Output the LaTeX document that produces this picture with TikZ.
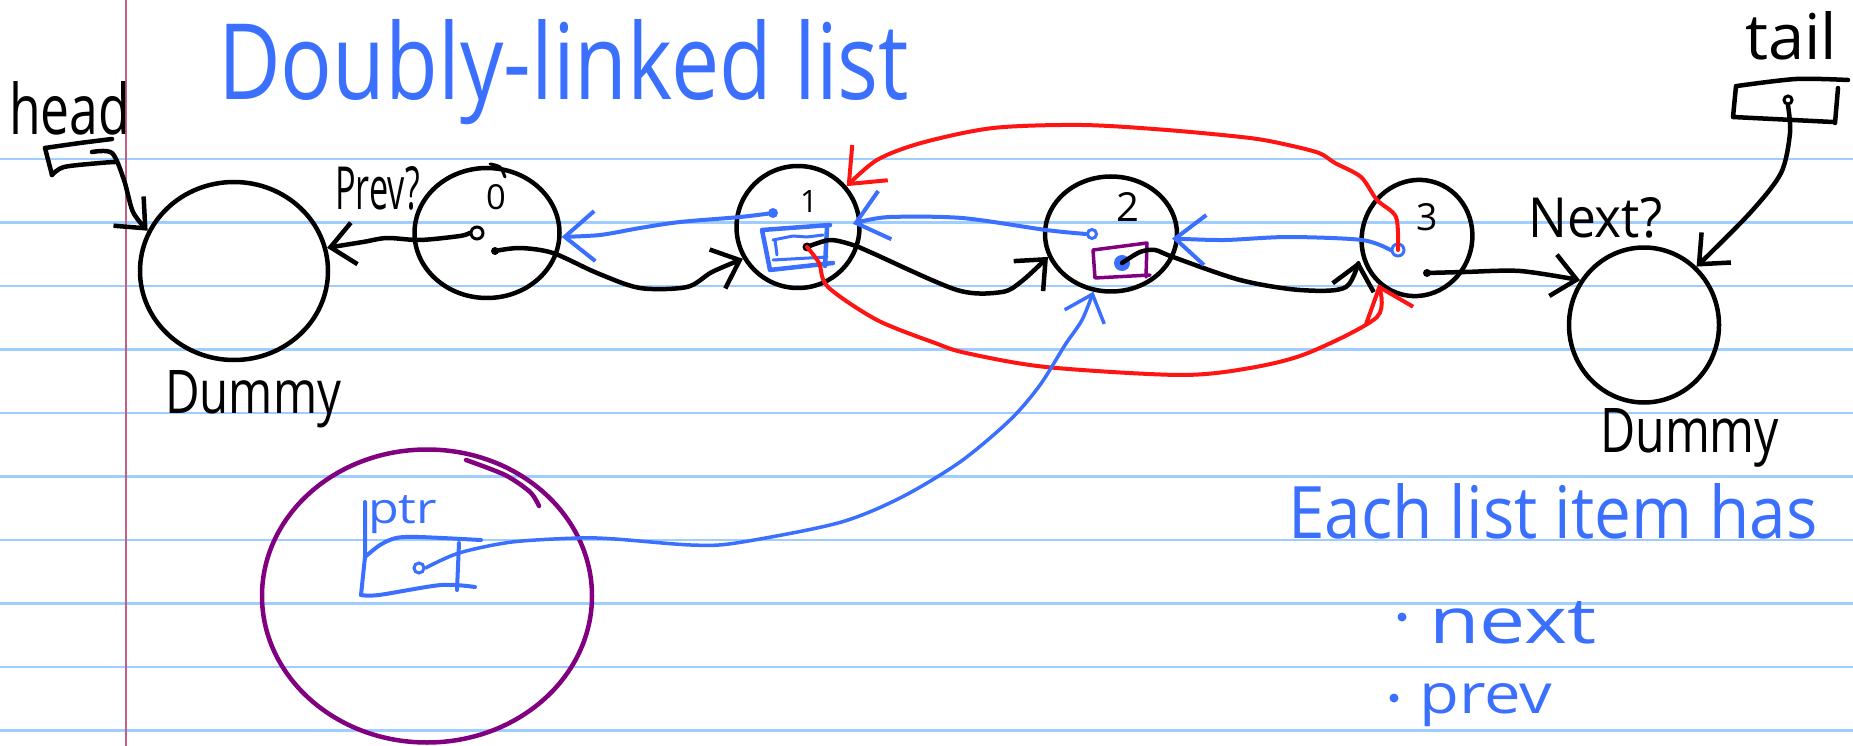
\documentclass[tikz,border=0pt]{standalone}
\usepackage{fontspec}
\setmainfont{Open Sans}
\usepackage{graphicx}
\usetikzlibrary{arrows.meta,shapes.geometric}
\definecolor{ink}{RGB}{59,112,255}
\definecolor{ruleblue}{RGB}{160,205,255}
\definecolor{marginred}{RGB}{195,95,130}
\definecolor{redink}{RGB}{255,20,20}
\definecolor{purp}{RGB}{128,0,128}
\newcommand{\hw}[3]{\resizebox{#1pt}{#2pt}{#3}}
\newcommand{\hh}[2]{\resizebox{!}{#1pt}{#2}}
\begin{document}
\begin{tikzpicture}[x=1pt,y=-1pt,
  pen/.style={line width=4.5pt, line cap=round, line join=round},
  circ/.style={draw, ellipse, pen, inner sep=0pt},
  lbl/.style={inner sep=0pt, anchor=base west},
  dig/.style={inner sep=0pt, anchor=base},
  ring/.style={draw, circle, line width=3pt, inner sep=0pt, minimum size=#1},
  blob/.style={fill, circle, inner sep=0pt, minimum size=#1},
  tip/.style={-{Straight Barb[length=24pt,width=42pt]}},
  bigtip/.style={-{Straight Barb[length=30pt,width=50pt]}}
]
\useasboundingbox (0,0) rectangle (1853,746);
\fill[white] (0,0) rectangle (1853,746);
% ruled paper
\foreach \k in {0,...,9}
  \draw[ruleblue, line width=2.5pt] (0,{159+63.5*\k}) -- (1853,{159+63.5*\k});
\draw[marginred, line width=2pt] (126,0) -- (126,746);

% texts
\node[lbl, ink] (title) at (218,100) {\hw{691}{80}{Doubly-linked list}};
\node[lbl] (headlbl) at (9,135) {\hw{121}{53}{head}};
\node[lbl] (taillbl) at (1745,60) {\hw{92}{48}{tail}};
\node[lbl] (prevq) at (335,210) {\hw{85}{43}{Prev?}};
\node[lbl] (nextq) at (1528,238) {\hw{134}{40}{Next?}};
\node[lbl] (dumLlbl) at (165,413) {\hw{176}{43}{Dummy}};
\node[lbl] (dumRlbl) at (1600,452) {\hw{179}{44}{Dummy}};
\node[lbl, ink] (ptrlbl) at (368,523) {\hw{69}{28}{ptr}};
\node[lbl, ink] (each) at (1288,538) {\hw{529}{55}{Each list item has}};
\node[lbl, ink] (nextlbl) at (1429,643) {\hw{167}{42}{next}};
\node[lbl, ink] (prevlbl) at (1419,713) {\hw{133}{30}{prev}};
\node[blob=9pt, ink] (bul1) at (1402,617) {};
\node[blob=9pt, ink] (bul2) at (1394,698) {};

% list nodes
\node[circ, minimum width=188pt, minimum height=178pt] (dL) at (234,271) {};
\node[circ, minimum width=145pt, minimum height=130pt] (n0) at (487,233) {};
\node[circ, minimum width=123pt, minimum height=122pt] (n1) at (798,227) {};
\node[circ, minimum width=132pt, minimum height=115pt] (n2) at (1111,234) {};
\node[circ, minimum width=110pt, minimum height=117pt, rotate=-20] (n3) at (1417,238) {};
\node[circ, minimum width=150pt, minimum height=155pt] (dR) at (1644,325) {};
\node[circ, purp, minimum width=330pt, minimum height=293pt] (ptrC) at (427,596) {};

\node[dig] (l0) at (496,210) {\hh{25}{0}};
\node[dig] (l1) at (809,212) {\hh{22}{1}};
\node[dig] (l2) at (1128,222) {\hh{29}{2}};
\node[dig] (l3) at (1427,230) {\hh{27}{3}};

% little overlapping strokes
\draw[pen, line width=3pt] plot[smooth] coordinates {(490,164) (500,167) (505,177)};
\draw[pen, purp] plot[smooth] coordinates {(466,460) (505,475) (530,492) (539,506)};

% head and tail boxes
\draw[pen] plot[smooth] coordinates {(45,148) (80,143) (112,139)};
\draw[pen] (45,148) -- (52,175);
\draw[pen] plot[smooth] coordinates {(52,175) (64,167) (100,163) (115,162)};
\coordinate (headDot) at (92,152);
\draw[pen] plot[smooth] coordinates {(1737,86) (1796,79) (1848,80)};
\draw[pen] (1736,86) -- (1733,117) -- (1833,122);
\draw[pen] (1838,88) -- (1835,123);
\node[ring=8pt] (tailDot) at (1788,100) {};

% fields inside nodes
\node[ring=12pt] (n0p) at (477,233) {};
\node[blob=8pt] (n0n) at (495,251) {};
\draw[pen, ink] (762,230) -- (830,225) (827,227) -- (825,266) (770,270) -- (833,263) (762,230) -- (770,270);
\draw[pen, ink, line width=3pt] (773,240) -- (793,236) -- (807,237) -- (823,235) (775,240) -- (777,255) (773,260) -- (827,257);
\node[blob=10pt, ink] (n1p) at (773,213) {};
\node[blob=9pt] (n1n) at (807,247) {};
\draw[pen, purp, line width=3.5pt] (1093,250) -- (1147,243) -- (1146,277) (1095,278) -- (1150,275) (1093,250) -- (1095,278);
\node[ring=9pt, ink] (n2p) at (1092,234) {};
\node[blob=16pt, ink] (n2n) at (1122,263) {};
\node[ring=12pt, ink] (n3p) at (1398,250) {};
\node[blob=8pt] (n3n) at (1427,273) {};

% ptr box
\draw[pen, ink, line width=4pt] plot[smooth] coordinates {(365,557) (380,545) (396,538) (419,537) (481,540)};
\draw[pen, ink, line width=4pt] (365,502) -- (365,557) -- (361,595);
\draw[pen, ink, line width=4pt] plot[smooth] coordinates {(361,595) (379,595) (441,585) (475,587)};
\draw[pen, ink, line width=4pt] (459,543) -- (457,590);
\node[ring=10pt, ink] (ptrDot) at (419,568) {};

% black connectors
\draw[pen, tip] plot[smooth] coordinates {(headDot) (112,153) (124,180) (133,212) (dL.155)};
\draw[pen, tip] plot[smooth] coordinates {(tailDot.south) (1790,133) (1781,173) (1750,213) (dR.48)};
\draw[pen, tip] plot[smooth] coordinates {(n0p.west) (460,236) (420,240) (387,238) (363,242) (dL.14)};
\draw[pen, tip] plot[smooth] coordinates {(n0n) (520,248) (553,253) (597,273) (640,288) (687,287) (712,272) (n1.210)};
\draw[pen, tip] plot[smooth] coordinates {(n1n) (830,240) (853,245) (870,252) (957,290) (1002,292) (1022,281) (n2.200)};
\draw[pen, tip, shorten >=8pt] plot[smooth] coordinates {(n2n) (1140,252) (1155,250) (1173,257) (1240,280) (1300,290) (1346,287) (n3.215)};
\draw[pen, tip] plot[smooth] coordinates {(n3n) (1465,272) (1520,271) (dR.145)};

% blue prev connectors
\draw[pen, ink, line width=4pt, bigtip] plot[smooth] coordinates {(n1p) (740,217) (680,222) (640,228) (600,235) (n0.357)};
\draw[pen, ink, line width=4pt, bigtip, shorten >=-9pt] plot[smooth] coordinates {(n2p.west) (1046,230) (962,218) (890,217) (n1.5)};
\draw[pen, ink, line width=4pt, bigtip, shorten >=-7pt] plot[smooth] coordinates {(n3p.west) (1362,240) (1288,237) (1225,240) (n2.356)};

% red connectors
\draw[pen, redink, line width=4pt, bigtip] plot[smooth] coordinates {(n3p) (1396,217) (1377,200) (1361,177) (1335,163) (1319,153) (1288,145) (1250,138) (1167,130) (1082,125) (993,128) (921,143) (877,160) (n1.40)};
\draw[pen, redink, line width=4pt, bigtip] plot[smooth] coordinates {(n1n) (819,263) (828,287) (877,320) (935,343) (966,353) (1046,367) (1180,375) (1250,368) (1308,353) (1377,317) (n3.250)};

% ptr connector
\draw[pen, ink, line width=3.5pt, tip] plot[smooth] coordinates {(ptrDot.east) (459,553) (512,542) (579,538) (615,539) (691,545) (736,543) (838,523) (900,498) (960,462) (1010,420) (1040,385) (1065,345) (1082,320) (n2.253)};
\end{tikzpicture}
\end{document}
